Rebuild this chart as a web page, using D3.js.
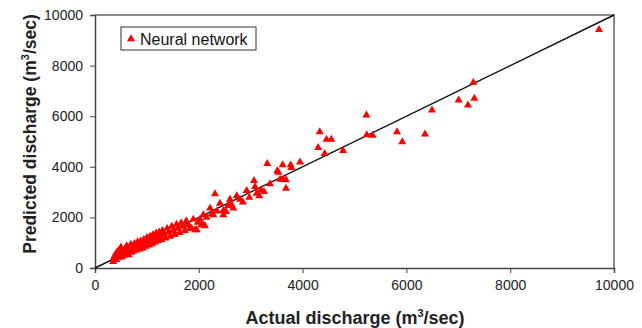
<!DOCTYPE html>
<html><head><meta charset="utf-8">
<script src="https://cdn.jsdelivr.net/npm/d3@7"></script>
<style>body{margin:0;background:#fff}svg{display:block}text{font-family:Arial,"Liberation Sans",sans-serif}</style>
</head><body><svg id="c" width="642" height="328"></svg>
<script>
const actual = [350,370,400,410,430,450,470,490,500,520,540,560,580,600,610,630,650,670,690,700,720,740,760,780,800,820,840,860,880,900,920,940,960,980,1000,1020,1040,1060,1080,1100,1120,1140,1160,1180,1200,1220,1240,1260,1280,1300,1330,1360,1390,1420,1450,1480,1510,1540,1570,1600,1630,1660,1700,1730,1760,1800,1830,1863,1894,1927,1960,1980,2023,2050,2087,2087,2119,2150,2216,2250,2280,2312,2350,2408,2473,2473,2524,2560,2601,2633,2665,2730,2794,2850,2923,2974,3064,3083,3115,3166,3198,3256,3320,3372,3513,3532,3565,3616,3628,3680,3680,3770,3783,3950,4300,4330,4425,4460,4553,4780,5230,5235,5350,5820,5920,6358,6493,7007,7187,7309,7290,9711];
const predicted = [250,450,550,330,650,420,720,560,820,430,680,500,760,580,870,700,520,800,930,620,820,660,960,850,700,1030,880,740,1060,950,780,1120,980,850,1200,1050,900,1250,1120,950,1320,1180,1020,1380,1250,1080,1420,1290,1120,1480,1350,1180,1560,1420,1250,1640,1480,1320,1720,1560,1400,1780,1640,1480,1860,1700,1560,1569,1925,1502,1502,1800,1925,1700,2095,1700,1660,2000,2360,2150,2095,2925,2250,2556,2265,2095,2225,2450,2714,2490,2360,2846,2714,2600,3057,2794,3451,3213,2952,2846,3083,3017,4120,3320,3834,3782,3505,4071,3505,3478,3150,4070,3964,4180,4760,5380,4520,5080,5080,4640,6040,5260,5240,5380,4980,5290,6240,6630,6440,6700,7330,9420];
const ticks = [0,2000,4000,6000,8000,10000];
const seriesName = "Neural network";

const svg = d3.select("#c");
const L=95,R=614,T=15,B=268;
const x = d3.scaleLinear().domain([0,10000]).range([L,R]);
const y = d3.scaleLinear().domain([0,10000]).range([B,T]);

svg.append("path").attr("d",`M${L},${T}H${R}V${B}`).attr("fill","none").attr("stroke","#8c8c8c").attr("stroke-width",2);

const xa = svg.append("g").attr("transform",`translate(0,${B})`)
  .call(d3.axisBottom(x).tickValues(ticks).tickSize(5).tickPadding(7).tickFormat(d3.format("d")));
const ya = svg.append("g").attr("transform",`translate(${L},0)`)
  .call(d3.axisLeft(y).tickValues(ticks).tickSize(5).tickPadding(7).tickFormat(d3.format("d")));
[xa,ya].forEach(g=>{
  g.select(".domain").attr("stroke","#444").attr("stroke-width",1.5);
  g.selectAll(".tick line").attr("stroke","#444");
  g.selectAll(".tick text").attr("fill","#222").style("font-size","14px");
});

svg.append("line").attr("x1",x(0)).attr("y1",y(0)).attr("x2",x(10000)).attr("y2",y(10000))
  .attr("stroke","#111").attr("stroke-width",1.4);

const tri = d3.symbol().type(d3.symbolTriangle).size(28);
svg.append("g").selectAll("path").data(actual.map((a,i)=>[a,predicted[i]])).join("path")
  .attr("d",tri).attr("transform",d=>`translate(${x(d[0])},${y(d[1])})`).attr("fill","#ff0000");

svg.append("rect").attr("x",121).attr("y",27).attr("width",135).attr("height",23)
  .attr("fill","#fff").attr("stroke","#333").attr("stroke-width",1);
svg.append("path").attr("d",tri).attr("transform","translate(131,39)").attr("fill","#ff0000");
svg.append("text").attr("x",140).attr("y",44.5).style("font-size","16px").attr("fill","#111").text(seriesName);

const xt = svg.append("text").attr("x",355).attr("y",324).attr("text-anchor","middle")
  .style("font-size","18px").style("font-weight","bold").attr("fill","#222");
xt.append("tspan").text("Actual discharge (m");
xt.append("tspan").text("3").attr("dy",-7).style("font-size","11px");
xt.append("tspan").text("/sec)").attr("dy",7);

const yt = svg.append("text").attr("transform","translate(36,134) rotate(-90)").attr("text-anchor","middle")
  .style("font-size","17.5px").style("font-weight","bold").attr("fill","#222");
yt.append("tspan").text("Predicted discharge (m");
yt.append("tspan").text("3").attr("dy",-7).style("font-size","11px");
yt.append("tspan").text("/sec)").attr("dy",7);
</script></body></html>
